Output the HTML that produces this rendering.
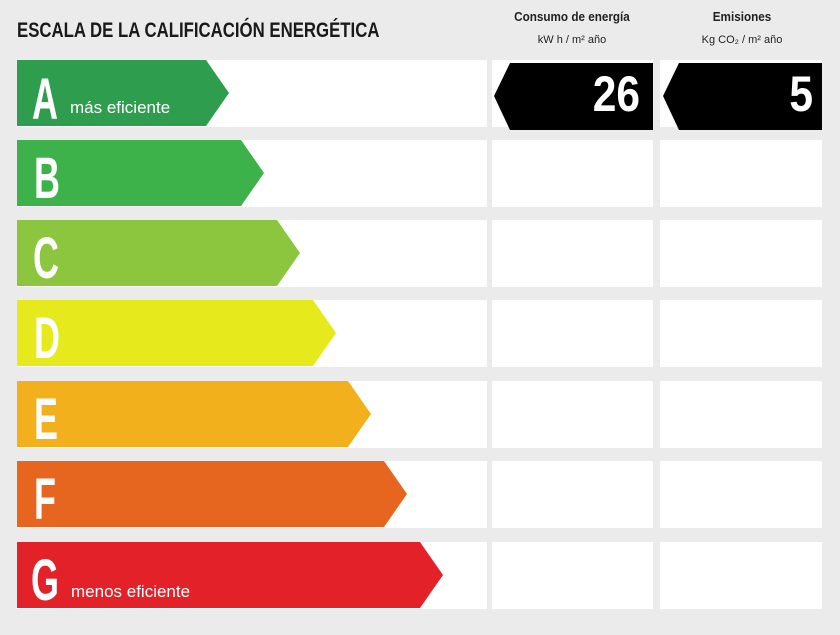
<!DOCTYPE html>
<html><head><meta charset="utf-8"><style>
body{margin:0;background:#ebebeb;width:840px;height:630px;overflow:hidden;font-family:"Liberation Sans",sans-serif}
</style></head><body>
<svg width="840" height="630" xmlns="http://www.w3.org/2000/svg" font-family="Liberation Sans, sans-serif">
<rect width="840" height="630" fill="#ebebeb"/>
<text x="17" y="37" font-size="21" font-weight="bold" fill="#1a1a1a" transform="translate(17 0) scale(0.8 1) translate(-17 0)">ESCALA DE LA CALIFICACIÓN ENERGÉTICA</text>
<text x="572" y="21" font-size="13" font-weight="bold" text-anchor="middle" fill="#222" transform="translate(572 0) scale(0.9 1) translate(-572 0)">Consumo de energía</text>
<text x="572" y="43" font-size="11" text-anchor="middle" fill="#222">kW h / m² año</text>
<text x="742" y="21" font-size="13" font-weight="bold" text-anchor="middle" fill="#222" transform="translate(742 0) scale(0.9 1) translate(-742 0)">Emisiones</text>
<text x="742" y="43" font-size="11" text-anchor="middle" fill="#222">Kg CO₂ / m² año</text>
<g fill="#fff">
<rect x="17" y="60" width="470" height="67"/><rect x="492" y="60" width="161" height="67"/><rect x="660" y="60" width="162" height="67"/>
<rect x="17" y="140" width="470" height="67"/><rect x="492" y="140" width="161" height="67"/><rect x="660" y="140" width="162" height="67"/>
<rect x="17" y="220" width="470" height="67"/><rect x="492" y="220" width="161" height="67"/><rect x="660" y="220" width="162" height="67"/>
<rect x="17" y="300" width="470" height="67"/><rect x="492" y="300" width="161" height="67"/><rect x="660" y="300" width="162" height="67"/>
<rect x="17" y="381" width="470" height="67"/><rect x="492" y="381" width="161" height="67"/><rect x="660" y="381" width="162" height="67"/>
<rect x="17" y="461" width="470" height="67"/><rect x="492" y="461" width="161" height="67"/><rect x="660" y="461" width="162" height="67"/>
<rect x="17" y="542" width="470" height="67"/><rect x="492" y="542" width="161" height="67"/><rect x="660" y="542" width="162" height="67"/>
</g>
<polygon points="17,60 206,60 229,93 206,126 17,126" fill="#2f9d4e"/>
<polygon points="17,140 241,140 264,173 241,206 17,206" fill="#3db24a"/>
<polygon points="17,220 277,220 300,253 277,286 17,286" fill="#8cc63f"/>
<polygon points="17,300 313,300 336,333 313,366 17,366" fill="#e6ea1c"/>
<polygon points="17,381 348,381 371,414 348,447 17,447" fill="#f2b01d"/>
<polygon points="17,461 384,461 407,494 384,527 17,527" fill="#e6661f"/>
<polygon points="17,542 420,542 443,575 420,608 17,608" fill="#e32129"/>
<g fill="#fff" font-size="58" font-weight="bold">
<text x="32" y="119" transform="translate(32 0) scale(0.62 1) translate(-32 0)">A</text>
<text x="34" y="198" transform="translate(34 0) scale(0.62 1) translate(-34 0)">B</text>
<text x="33" y="278" transform="translate(33 0) scale(0.62 1) translate(-33 0)">C</text>
<text x="34" y="358" transform="translate(34 0) scale(0.62 1) translate(-34 0)">D</text>
<text x="34" y="439" transform="translate(34 0) scale(0.62 1) translate(-34 0)">E</text>
<text x="34" y="519" transform="translate(34 0) scale(0.62 1) translate(-34 0)">F</text>
<text x="31" y="600" transform="translate(31 0) scale(0.62 1) translate(-31 0)">G</text>
</g>
<text x="70" y="113" font-size="17" fill="#fff">más eficiente</text>
<text x="71" y="597" font-size="17" fill="#fff">menos eficiente</text>
<polygon points="510,63 653,63 653,130 510,130 494,96" fill="#000"/>
<polygon points="679,63 822,63 822,130 679,130 663,96" fill="#000"/>
<g fill="#fff" font-size="50" font-weight="bold" text-anchor="end">
<text x="640" y="111" transform="translate(640 0) scale(0.85 1) translate(-640 0)">26</text>
<text x="813" y="111" transform="translate(813 0) scale(0.85 1) translate(-813 0)">5</text>
</g>
</svg>
</body></html>
